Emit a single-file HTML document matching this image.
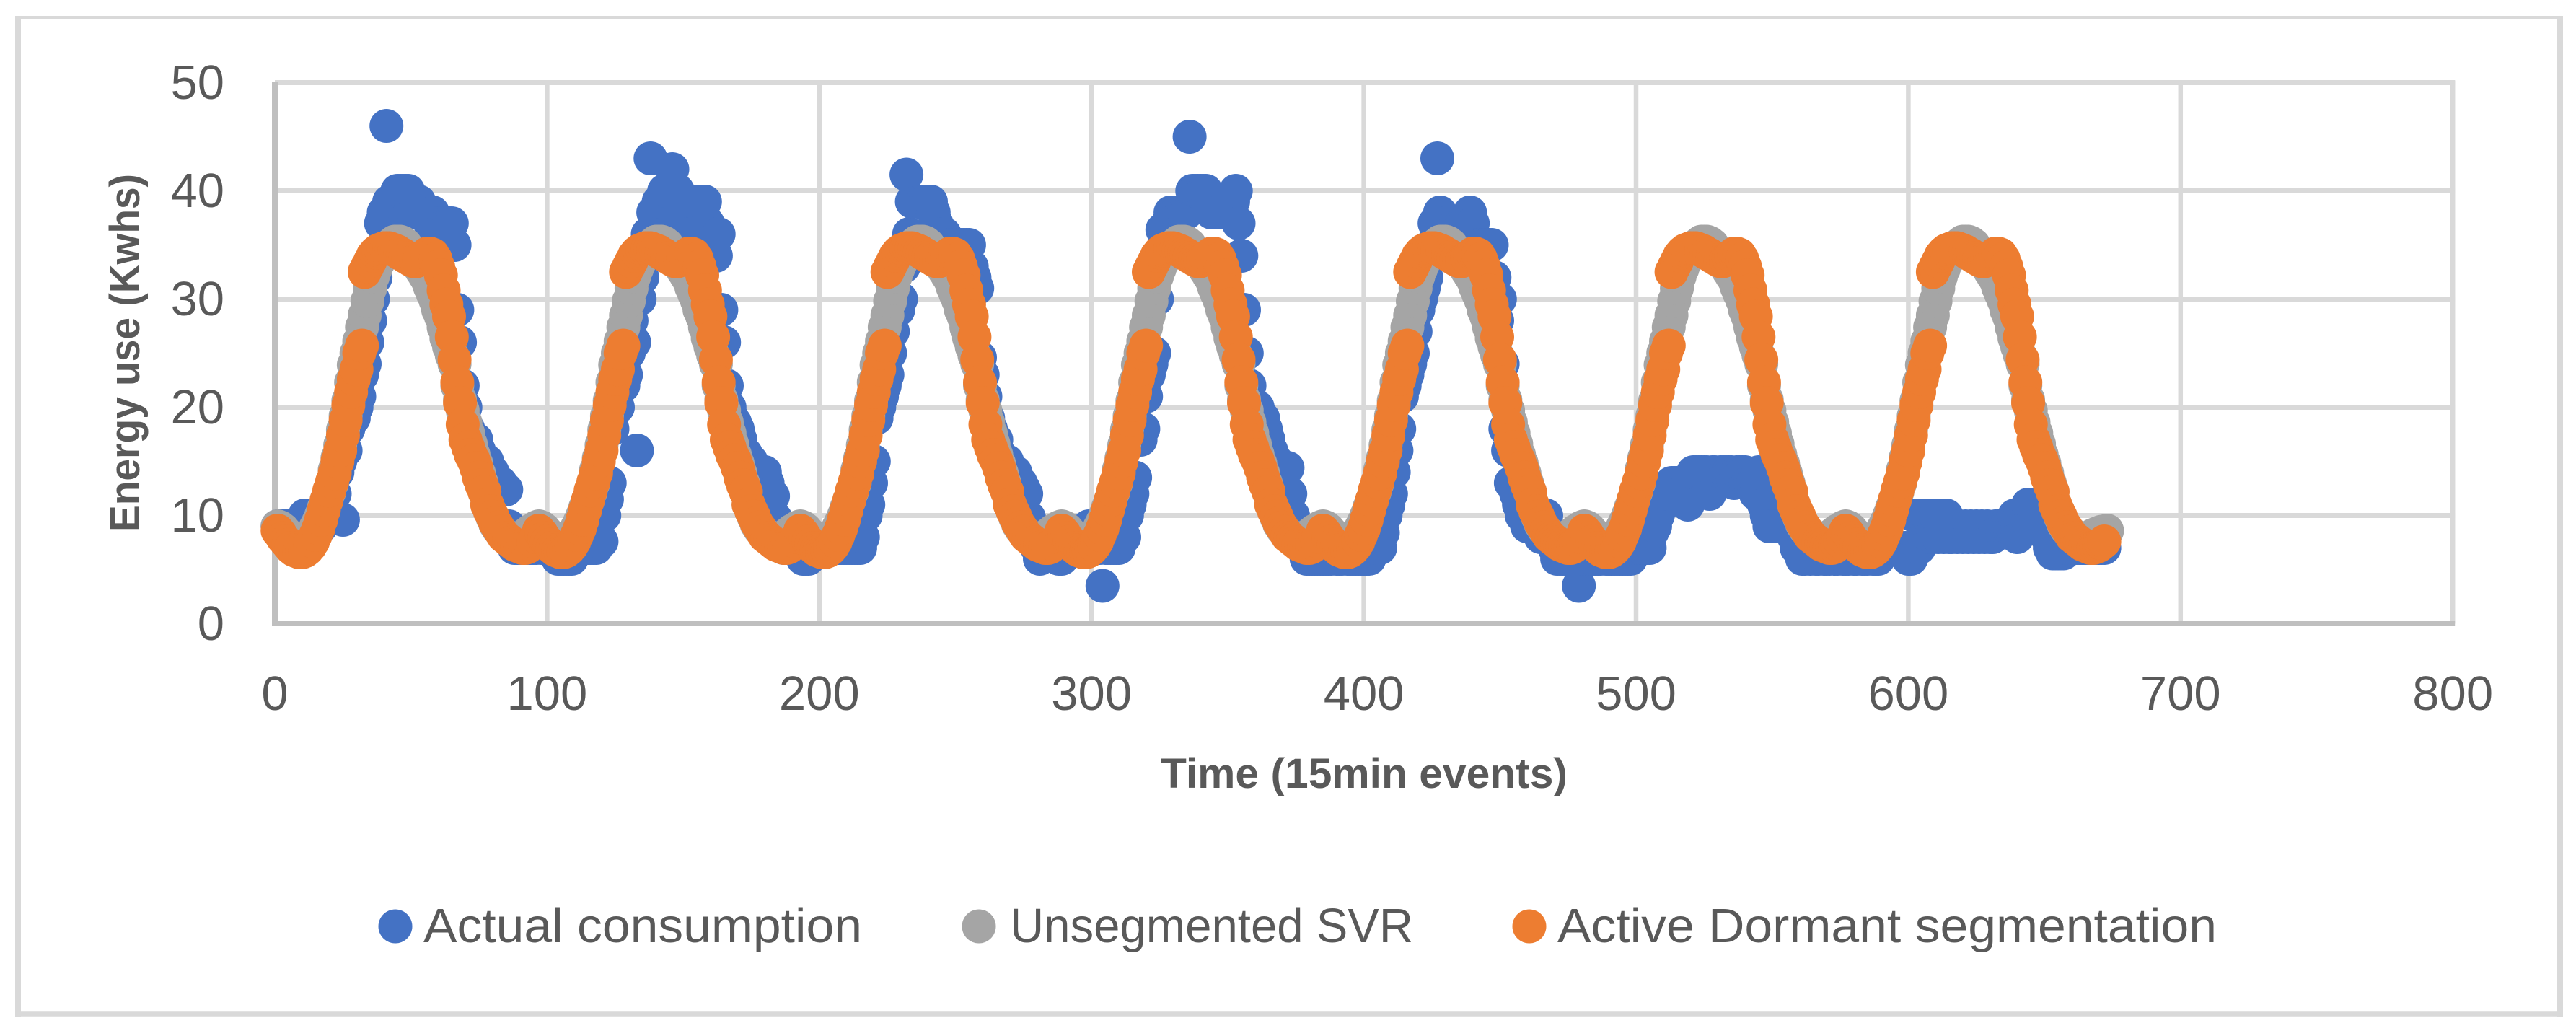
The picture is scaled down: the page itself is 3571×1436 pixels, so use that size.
<!DOCTYPE html>
<html lang="en">
<head>
<meta charset="utf-8">
<title>Energy use chart</title>
<style>
html,body{margin:0;padding:0;background:#fff}
svg{display:block}
text{font-family:"Liberation Sans",sans-serif;fill:#595959}
</style>
</head>
<body>
<svg id="chart" xmlns="http://www.w3.org/2000/svg" width="3571" height="1436" viewBox="0 0 3571 1436">
  <rect x="0" y="0" width="3571" height="1436" fill="#fff"/>
  <g stroke="#D9D9D9" fill="none">
    <line x1="25" y1="22" x2="25" y2="1409" stroke-width="8"/>
    <line x1="21" y1="24.5" x2="3553" y2="24.5" stroke-width="5"/>
    <line x1="3549" y1="22" x2="3549" y2="1409" stroke-width="8"/>
    <line x1="21" y1="1405.5" x2="3553" y2="1405.5" stroke-width="6.5"/>
  </g>
  <g id="grid"></g>
  <g id="axes"></g>
  <g id="marks-actual" fill="#4472C4"></g>
  <g id="marks-svr" fill="#A5A5A5"></g>
  <g id="marks-segmented" fill="#ED7D31"></g>
  <g id="tick-labels" font-size="67"></g>
  <text transform="translate(193,489) rotate(-90)" text-anchor="middle" font-size="58" font-weight="bold" textLength="496" lengthAdjust="spacingAndGlyphs">Energy use (Kwhs)</text>
  <text x="1891" y="1092" text-anchor="middle" font-size="58" font-weight="bold" textLength="564" lengthAdjust="spacingAndGlyphs">Time (15min events)</text>
  <g font-size="67">
    <circle cx="548" cy="1284" r="23.5" fill="#4472C4"/>
    <text x="587" y="1306" textLength="608" lengthAdjust="spacingAndGlyphs">Actual consumption</text>
    <circle cx="1357" cy="1284" r="23.5" fill="#A5A5A5"/>
    <text x="1400" y="1306" textLength="559" lengthAdjust="spacingAndGlyphs">Unsegmented SVR</text>
    <circle cx="2120" cy="1284" r="23.5" fill="#ED7D31"/>
    <text x="2159" y="1306" textLength="914" lengthAdjust="spacingAndGlyphs">Active Dormant segmentation</text>
  </g>
</svg>
<script>
const xTicks = [0,100,200,300,400,500,600,700,800];
const yTicks = [0,10,20,30,40,50];

const actualConsumption = [
9,9,9,9,9,9,9,9,9,9,10,10,10,9,9,10,9,10,10,11,13,12,14,15,9.6,16,18,18.7,19,20,21,23,24,26,28,30,32,34,37,38,46,39,38,39,40,40,40,40,40,39,38,39,39,38,38,38,37,38,37,37,37,37,37,37,37,35,29,26,22,20,18,17,17,17,16,15,15,15,14,14,13,13,13,12.5,12.4,9,8,7,7,7,7,7,7,7,7,7,
8,7,7,7,7,7,7,6,6,6,6,6,6,7,7,7,7,7,7,7,7,7,7.6,7.6,10,11.5,13,18,21,20,22,22,23,25,28,26,16,30,32,34,36,43,38,38,39,39,40,40,40,42,40,40,38,37,36,36,36,39,39,39,39,39,37,36,34,34,36,29,26,22,20,19,18.6,18,17,16,15.7,15,15,14,14,14,13,14,13,12,11.8,9.7,9,8,7,7,7,7,7,7,
7,6,6,6,7,7,7,7,7,7,7,7,7,7,7,7,7,7,7,7,7,7,7,8,10,11,13,15,19,20,21,22,23,25,27,30,29,30,33,41.5,36,39,39,39,39,39,39,39,39,38,37,36,36,36,35,35,35,35,35,35,35,35,35,33,32,31,24.6,23,21,19,18,17,17,15.7,15,15,15,14,14,14,13,13,12.5,12,9.8,9,8,7,6,7,7,7,7,7,7,6,
6,7,7,7,7,7,7,7,8,8,9,7,7,7,7,3.5,7,7,7,7,7,7,8,8,10,11,12,13.5,17,17,18,21,23,24,25,30,33,36.4,36,37,38,38,38,38,38,38,38,45,40,40,40,40,40,40,39,38,38,38,38,38,38,39,39,39,40,37,34,29,25,22,20,20,20,19,19,18,17,16,15,15,14,14,12,14.4,12,10,9,9,8,7,6,6,6,6,6,6,
6,6,6,6,7,6,6,6,7,6,6,6,6,6,6,6,6,6,7,7,7,7,8.4,10,11,12,14,16,18,21,22,23,24,25,27,29,30,31,32,34,35,37,43,38,37,37,36,36,36,37,37,37,37,37,38,37,35,35,35,35,35,35,35,32,28,30,24,18,16,13,13,12,11,10,10,9,9,9,9,9,8,8,10,8,8,7,6,6,6,6,6,6,6,6,3.5,6,
6,6,6,6,6,6,6,7,6,6,6,6,6,6,6,6,6,6,7,7,7,7,7,7,7,8.5,9,10,11,11,12,12,13,13,13,12,12,12,11,13,14,14,14,14,14,14,12,14,14,13,14,14,14,14,14,13,14,14,14,14,13,13,13,12,14,12,11,10,9,9,9,9,9,9,9,9,9,8,7,7,6,6,7,6,7,6,6,7,6,6,6,7,6,6,7,6,
6,6,7,6,6,7,6,6,6,7,6,6,6,7,7,7,7,7,7,7,7,7,7,6,6,10,10,7,10,8,10,8,8,10,8,10,8,10,8,8,9,8,9,8,9,8,9,8,9,8,9,8,9,8,8,9,9,9,9,9,9,9,10,8,10,10,10,11,11,11,11,11,10,9,8,7,6.5,6.5,6.5,6.5,6.5,7,7,7,7,7,7,7,7,7,7,7,7,7,7,7
];

const unsegmentedSvr = [
9,8.9,8.7,8.4,8.1,7.8,7.4,7.1,7,7,7.2,7.5,7.9,8.3,8.9,9.4,10,10.7,11.4,12.2,13,14.2,15.3,16.5,17.9,19.2,20.6,22.3,23.9,25,26.1,27.4,28.5,29.8,31,32.1,32.8,33.4,33.9,34.3,34.6,34.9,35.1,35.3,35.3,35.3,35.2,35,34.6,34.2,33.8,33.4,33,32.6,32.2,31.8,31.1,30.5,29.9,29,28.4,27.4,26.4,25.6,24.8,24,22,20.7,19.7,18.6,17.6,16.6,15.6,14.8,13.9,13,12.2,11,10.4,9.8,9.2,8.8,8.5,8.3,8.1,7.9,7.7,7.6,7.7,7.8,8,8.2,8.4,8.6,8.7,8.9,
9,8.9,8.7,8.4,8.1,7.8,7.4,7.1,7,7,7.2,7.5,7.9,8.3,8.9,9.4,10,10.7,11.4,12.2,13,14.2,15.3,16.5,17.9,19.2,20.6,22.3,23.9,25,26.1,27.4,28.5,29.8,31,32.1,32.8,33.4,33.9,34.3,34.6,34.9,35.1,35.3,35.3,35.3,35.2,35,34.6,34.2,33.8,33.4,33,32.6,32.2,31.8,31.1,30.5,29.9,29,28.4,27.4,26.4,25.6,24.8,24,22,20.7,19.7,18.6,17.6,16.6,15.6,14.8,13.9,13,12.2,11,10.4,9.8,9.2,8.8,8.5,8.3,8.1,7.9,7.7,7.6,7.7,7.8,8,8.2,8.4,8.6,8.7,8.9,
9,8.9,8.7,8.4,8.1,7.8,7.4,7.1,7,7,7.2,7.5,7.9,8.3,8.9,9.4,10,10.7,11.4,12.2,13,14.2,15.3,16.5,17.9,19.2,20.6,22.3,23.9,25,26.1,27.4,28.5,29.8,31,32.1,32.8,33.4,33.9,34.3,34.6,34.9,35.1,35.3,35.3,35.3,35.2,35,34.6,34.2,33.8,33.4,33,32.6,32.2,31.8,31.1,30.5,29.9,29,28.4,27.4,26.4,25.6,24.8,24,22,20.7,19.7,18.6,17.6,16.6,15.6,14.8,13.9,13,12.2,11,10.4,9.8,9.2,8.8,8.5,8.3,8.1,7.9,7.7,7.6,7.7,7.8,8,8.2,8.4,8.6,8.7,8.9,
9,8.9,8.7,8.4,8.1,7.8,7.4,7.1,7,7,7.2,7.5,7.9,8.3,8.9,9.4,10,10.7,11.4,12.2,13,14.2,15.3,16.5,17.9,19.2,20.6,22.3,23.9,25,26.1,27.4,28.5,29.8,31,32.1,32.8,33.4,33.9,34.3,34.6,34.9,35.1,35.3,35.3,35.3,35.2,35,34.6,34.2,33.8,33.4,33,32.6,32.2,31.8,31.1,30.5,29.9,29,28.4,27.4,26.4,25.6,24.8,24,22,20.7,19.7,18.6,17.6,16.6,15.6,14.8,13.9,13,12.2,11,10.4,9.8,9.2,8.8,8.5,8.3,8.1,7.9,7.7,7.6,7.7,7.8,8,8.2,8.4,8.6,8.7,8.9,
9,8.9,8.7,8.4,8.1,7.8,7.4,7.1,7,7,7.2,7.5,7.9,8.3,8.9,9.4,10,10.7,11.4,12.2,13,14.2,15.3,16.5,17.9,19.2,20.6,22.3,23.9,25,26.1,27.4,28.5,29.8,31,32.1,32.8,33.4,33.9,34.3,34.6,34.9,35.1,35.3,35.3,35.3,35.2,35,34.6,34.2,33.8,33.4,33,32.6,32.2,31.8,31.1,30.5,29.9,29,28.4,27.4,26.4,25.6,24.8,24,22,20.7,19.7,18.6,17.6,16.6,15.6,14.8,13.9,13,12.2,11,10.4,9.8,9.2,8.8,8.5,8.3,8.1,7.9,7.7,7.6,7.7,7.8,8,8.2,8.4,8.6,8.7,8.9,
9,8.9,8.7,8.4,8.1,7.8,7.4,7.1,7,7,7.2,7.5,7.9,8.3,8.9,9.4,10,10.7,11.4,12.2,13,14.2,15.3,16.5,17.9,19.2,20.6,22.3,23.9,25,26.1,27.4,28.5,29.8,31,32.1,32.8,33.4,33.9,34.3,34.6,34.9,35.1,35.3,35.3,35.3,35.2,35,34.6,34.2,33.8,33.4,33,32.6,32.2,31.8,31.1,30.5,29.9,29,28.4,27.4,26.4,25.6,24.8,24,22,20.7,19.7,18.6,17.6,16.6,15.6,14.8,13.9,13,12.2,11,10.4,9.8,9.2,8.8,8.5,8.3,8.1,7.9,7.7,7.6,7.7,7.8,8,8.2,8.4,8.6,8.7,8.9,
9,8.9,8.7,8.4,8.1,7.8,7.4,7.1,7,7,7.2,7.5,7.9,8.3,8.9,9.4,10,10.7,11.4,12.2,13,14.2,15.3,16.5,17.9,19.2,20.6,22.3,23.9,25,26.1,27.4,28.5,29.8,31,32.1,32.8,33.4,33.9,34.3,34.6,34.9,35.1,35.3,35.3,35.3,35.2,35,34.6,34.2,33.8,33.4,33,32.6,32.2,31.8,31.1,30.5,29.9,29,28.4,27.4,26.4,25.6,24.8,24,22,20.7,19.7,18.6,17.6,16.6,15.6,14.8,13.9,13,12.2,11,10.4,9.8,9.2,8.8,8.5,8.3,8.1,7.9,7.7,7.6,7.7,7.8,8,8.2,8.3,8.4,8.5,8.5,8.6
];

const activeDormantSegmentation = [
8.6,8.3,7.9,7.6,7.3,7,6.8,6.7,6.6,6.6,6.7,6.9,7.2,7.6,8.2,8.8,9.6,10.5,11.4,12.3,13.1,13.9,15,16,17.4,18.8,20.2,21.4,22.6,23.5,25,25.7,32.5,33,33.5,34,34.3,34.5,34.6,34.7,34.7,34.7,34.6,34.5,34.4,34.2,34.1,33.9,33.8,33.6,33.5,33.5,33.6,33.8,34,34.2,34.2,34.1,33.7,33,32.2,30.8,29.5,28.4,26.5,24.4,22.3,20.4,18.4,17,16.3,15.6,15.1,14.4,13.5,12.8,12.2,11,10.4,9.9,9.3,8.9,8.5,8.1,7.9,7.7,7.5,7.3,7.2,7.1,7,7,7.1,7.3,7.6,8,
8.6,8.3,7.9,7.6,7.3,7,6.8,6.7,6.6,6.6,6.7,6.9,7.2,7.6,8.2,8.8,9.6,10.5,11.4,12.3,13.1,13.9,15,16,17.4,18.8,20.2,21.4,22.6,23.5,25,25.7,32.5,33,33.5,34,34.3,34.5,34.6,34.7,34.7,34.7,34.6,34.5,34.4,34.2,34.1,33.9,33.8,33.6,33.5,33.5,33.6,33.8,34,34.2,34.2,34.1,33.7,33,32.2,30.8,29.5,28.4,26.5,24.4,22.3,20.4,18.4,17,16.3,15.6,15.1,14.4,13.5,12.8,12.2,11,10.4,9.9,9.3,8.9,8.5,8.1,7.9,7.7,7.5,7.3,7.2,7.1,7,7,7.1,7.3,7.6,8,
8.6,8.3,7.9,7.6,7.3,7,6.8,6.7,6.6,6.6,6.7,6.9,7.2,7.6,8.2,8.8,9.6,10.5,11.4,12.3,13.1,13.9,15,16,17.4,18.8,20.2,21.4,22.6,23.5,25,25.7,32.5,33,33.5,34,34.3,34.5,34.6,34.7,34.7,34.7,34.6,34.5,34.4,34.2,34.1,33.9,33.8,33.6,33.5,33.5,33.6,33.8,34,34.2,34.2,34.1,33.7,33,32.2,30.8,29.5,28.4,26.5,24.4,22.3,20.4,18.4,17,16.3,15.6,15.1,14.4,13.5,12.8,12.2,11,10.4,9.9,9.3,8.9,8.5,8.1,7.9,7.7,7.5,7.3,7.2,7.1,7,7,7.1,7.3,7.6,8,
8.6,8.3,7.9,7.6,7.3,7,6.8,6.7,6.6,6.6,6.7,6.9,7.2,7.6,8.2,8.8,9.6,10.5,11.4,12.3,13.1,13.9,15,16,17.4,18.8,20.2,21.4,22.6,23.5,25,25.7,32.5,33,33.5,34,34.3,34.5,34.6,34.7,34.7,34.7,34.6,34.5,34.4,34.2,34.1,33.9,33.8,33.6,33.5,33.5,33.6,33.8,34,34.2,34.2,34.1,33.7,33,32.2,30.8,29.5,28.4,26.5,24.4,22.3,20.4,18.4,17,16.3,15.6,15.1,14.4,13.5,12.8,12.2,11,10.4,9.9,9.3,8.9,8.5,8.1,7.9,7.7,7.5,7.3,7.2,7.1,7,7,7.1,7.3,7.6,8,
8.6,8.3,7.9,7.6,7.3,7,6.8,6.7,6.6,6.6,6.7,6.9,7.2,7.6,8.2,8.8,9.6,10.5,11.4,12.3,13.1,13.9,15,16,17.4,18.8,20.2,21.4,22.6,23.5,25,25.7,32.5,33,33.5,34,34.3,34.5,34.6,34.7,34.7,34.7,34.6,34.5,34.4,34.2,34.1,33.9,33.8,33.6,33.5,33.5,33.6,33.8,34,34.2,34.2,34.1,33.7,33,32.2,30.8,29.5,28.4,26.5,24.4,22.3,20.4,18.4,17,16.3,15.6,15.1,14.4,13.5,12.8,12.2,11,10.4,9.9,9.3,8.9,8.5,8.1,7.9,7.7,7.5,7.3,7.2,7.1,7,7,7.1,7.3,7.6,8,
8.6,8.3,7.9,7.6,7.3,7,6.8,6.7,6.6,6.6,6.7,6.9,7.2,7.6,8.2,8.8,9.6,10.5,11.4,12.3,13.1,13.9,15,16,17.4,18.8,20.2,21.4,22.6,23.5,25,25.7,32.5,33,33.5,34,34.3,34.5,34.6,34.7,34.7,34.7,34.6,34.5,34.4,34.2,34.1,33.9,33.8,33.6,33.5,33.5,33.6,33.8,34,34.2,34.2,34.1,33.7,33,32.2,30.8,29.5,28.4,26.5,24.4,22.3,20.4,18.4,17,16.3,15.6,15.1,14.4,13.5,12.8,12.2,11,10.4,9.9,9.3,8.9,8.5,8.1,7.9,7.7,7.5,7.3,7.2,7.1,7,7,7.1,7.3,7.6,8,
8.6,8.3,7.9,7.6,7.3,7,6.8,6.7,6.6,6.6,6.7,6.9,7.2,7.6,8.2,8.8,9.6,10.5,11.4,12.3,13.1,13.9,15,16,17.4,18.8,20.2,21.4,22.6,23.5,25,25.7,32.5,33,33.5,34,34.3,34.5,34.6,34.7,34.7,34.7,34.6,34.5,34.4,34.2,34.1,33.9,33.8,33.6,33.5,33.5,33.6,33.8,34,34.2,34.2,34.1,33.7,33,32.2,30.8,29.5,28.4,26.5,24.4,22.3,20.4,18.4,17,16.3,15.6,15.1,14.4,13.5,12.8,12.2,11,10.4,9.9,9.3,8.9,8.5,8.1,7.9,7.7,7.5,7.3,7.2,7.1,7,7,7.1,7.2,7.4,7.6
];

const SVG_NS = 'http://www.w3.org/2000/svg';
const plotLeft = 381, plotBottom = 864.5, pxPerEvent = 3.774, pxPerKwh = 15;
function xScale(v){ return plotLeft + v * pxPerEvent; }
function yScale(v){ return plotBottom - v * pxPerKwh; }

const gridGroup = document.getElementById('grid');
const axesGroup = document.getElementById('axes');
const labelGroup = document.getElementById('tick-labels');

function makeLine(parent, x1, y1, x2, y2, color, width){
  const el = document.createElementNS(SVG_NS, 'line');
  el.setAttribute('x1', x1);
  el.setAttribute('y1', y1);
  el.setAttribute('x2', x2);
  el.setAttribute('y2', y2);
  el.setAttribute('stroke', color);
  el.setAttribute('stroke-width', width);
  parent.appendChild(el);
  return el;
}

const xMax = xTicks[xTicks.length - 1];
const yMax = yTicks[yTicks.length - 1];

yTicks.forEach(function(tick){
  if (tick !== 0) {
    const g = makeLine(gridGroup, xScale(0), yScale(tick), xScale(xMax) + 3, yScale(tick), '#D9D9D9', 7);
    
    
  }
  const t = document.createElementNS(SVG_NS, 'text');
  t.setAttribute('x', 311);
  t.setAttribute('y', yScale(tick) + 22.5);
  t.setAttribute('text-anchor', 'end');
  t.textContent = tick;
  
  
  labelGroup.appendChild(t);
});

xTicks.forEach(function(tick){
  if (tick !== 0) {
    const g = makeLine(gridGroup, xScale(tick), yScale(yMax) - 3, xScale(tick), yScale(0), '#D9D9D9', 6.5);
    
    
  }
  const t = document.createElementNS(SVG_NS, 'text');
  t.setAttribute('x', xScale(tick));
  t.setAttribute('y', 984);
  t.setAttribute('text-anchor', 'middle');
  t.textContent = tick;
  
  
  labelGroup.appendChild(t);
});

const axisX = makeLine(axesGroup, xScale(0) - 4, yScale(0), xScale(xMax) + 3, yScale(0), '#BFBFBF', 7);


const axisY = makeLine(axesGroup, xScale(0), yScale(yMax) - 1, xScale(0), yScale(0) + 3, '#BFBFBF', 8);



function drawSeries(groupId, values, pointName){
  const group = document.getElementById(groupId);
  values.forEach(function(value, index){
    const el = document.createElementNS(SVG_NS, 'circle');
    el.setAttribute('cx', xScale(index + 1).toFixed(1));
    el.setAttribute('cy', yScale(value).toFixed(1));
    el.setAttribute('r', 23.5);
    
    
    group.appendChild(el);
  });
}

drawSeries('marks-actual', actualConsumption, 'actual-consumption-point');
drawSeries('marks-svr', unsegmentedSvr, 'unsegmented-svr-point');
drawSeries('marks-segmented', activeDormantSegmentation, 'active-dormant-point');
</script>
</body>
</html>
